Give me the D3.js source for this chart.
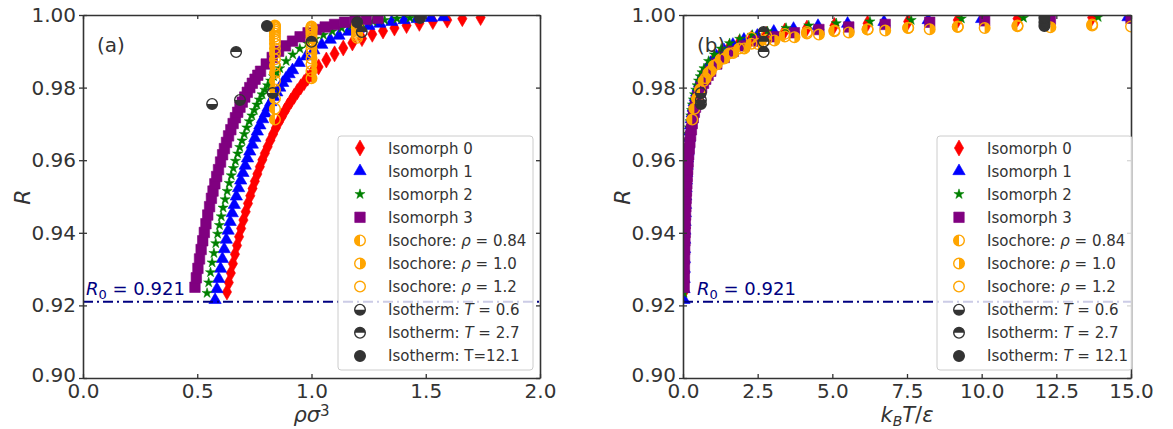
<!DOCTYPE html>
<html>
<head>
<meta charset="utf-8">
<script src="https://cdn.jsdelivr.net/npm/d3@7"></script>
<style>
body { margin: 0; background: #fff; }
svg text { font-family: "DejaVu Sans", sans-serif; fill: #333; }
</style>
</head>
<body>
<svg id="chart" width="1173" height="429"></svg>
<script>
// isomorph state points: density, temperature, R
var iso0Rho = [0.630,0.638,0.647,0.656,0.665,0.674,0.683,0.692,0.702,0.712,0.722,0.732,0.742,0.752,0.763,0.774,0.785,0.796,0.808,0.820,0.832,0.844,0.857,0.870,0.883,0.896,0.910,0.924,0.938,0.953,0.968,0.983,0.999,1.031,1.065,1.101,1.139,1.179,1.221,1.266,1.313,1.363,1.416,1.472,1.531,1.594,1.660,1.740];
var iso0T   = [0.029,0.032,0.035,0.039,0.043,0.047,0.052,0.058,0.064,0.071,0.078,0.086,0.095,0.105,0.116,0.128,0.141,0.156,0.173,0.191,0.211,0.233,0.257,0.284,0.313,0.346,0.382,0.422,0.466,0.515,0.569,0.628,0.694,0.847,1.03,1.26,1.54,1.88,2.29,2.79,3.41,4.15,5.07,6.18,7.54,9.20,11.2,13.7];
var iso0R   = [0.9237,0.9263,0.9289,0.9315,0.9341,0.9365,0.9389,0.9412,0.9435,0.9458,0.9481,0.9502,0.9522,0.9542,0.9562,0.9582,0.9601,0.9619,0.9637,0.9655,0.9672,0.9689,0.9705,0.9720,0.9735,0.9749,0.9763,0.9776,0.9789,0.9802,0.9814,0.9826,0.9837,0.9857,0.9876,0.9893,0.9909,0.9923,0.9935,0.9947,0.9956,0.9964,0.9971,0.9977,0.9982,0.9986,0.9990,0.9993];

var iso1Rho = [0.578,0.586,0.594,0.602,0.610,0.618,0.627,0.635,0.644,0.653,0.662,0.671,0.681,0.690,0.700,0.710,0.720,0.730,0.741,0.752,0.763,0.774,0.786,0.798,0.810,0.822,0.835,0.848,0.861,0.874,0.888,0.902,0.917,0.946,0.977,1.010,1.045,1.082,1.120,1.162,1.205,1.251,1.299,1.351,1.405,1.462,1.523,1.578];
var iso1T   = [0.031,0.034,0.038,0.042,0.047,0.052,0.057,0.063,0.069,0.077,0.085,0.094,0.103,0.114,0.126,0.139,0.154,0.170,0.188,0.207,0.229,0.253,0.279,0.308,0.341,0.376,0.416,0.459,0.507,0.560,0.619,0.684,0.755,0.921,1.12,1.37,1.67,2.04,2.49,3.04,3.70,4.52,5.51,6.73,8.21,10.0,12.2,14.9];
var iso1R   = [0.9215,0.9245,0.9273,0.9301,0.9328,0.9355,0.9381,0.9406,0.9430,0.9454,0.9477,0.9500,0.9523,0.9544,0.9565,0.9585,0.9605,0.9624,0.9643,0.9661,0.9679,0.9696,0.9713,0.9729,0.9745,0.9760,0.9774,0.9787,0.9800,0.9813,0.9825,0.9837,0.9848,0.9868,0.9886,0.9903,0.9918,0.9932,0.9943,0.9954,0.9962,0.9970,0.9976,0.9981,0.9986,0.9989,0.9992,0.9994];

var iso2Rho = [0.543,0.550,0.558,0.565,0.573,0.581,0.589,0.597,0.605,0.613,0.622,0.631,0.640,0.649,0.658,0.667,0.677,0.686,0.696,0.706,0.717,0.728,0.739,0.750,0.761,0.772,0.784,0.796,0.808,0.821,0.834,0.847,0.861,0.889,0.918,0.949,0.982,1.016,1.052,1.091,1.132,1.175,1.220,1.269,1.320,1.374,1.431,1.482];
var iso2T   = [0.030,0.033,0.036,0.040,0.044,0.048,0.053,0.059,0.065,0.072,0.079,0.087,0.096,0.106,0.117,0.129,0.143,0.158,0.175,0.193,0.213,0.235,0.260,0.287,0.317,0.350,0.387,0.427,0.472,0.521,0.576,0.636,0.703,0.857,1.05,1.28,1.56,1.90,2.32,2.83,3.45,4.21,5.13,6.26,7.64,9.32,11.4,13.9];
var iso2R   = [0.9234,0.9263,0.9291,0.9318,0.9344,0.9371,0.9397,0.9421,0.9445,0.9469,0.9492,0.9515,0.9537,0.9558,0.9578,0.9598,0.9618,0.9636,0.9654,0.9672,0.9690,0.9707,0.9723,0.9738,0.9753,0.9767,0.9781,0.9794,0.9806,0.9819,0.9831,0.9842,0.9853,0.9873,0.9891,0.9907,0.9922,0.9934,0.9945,0.9955,0.9964,0.9971,0.9977,0.9982,0.9986,0.9990,0.9992,0.9994];

var iso3Rho = [0.490,0.496,0.503,0.510,0.517,0.524,0.531,0.538,0.546,0.554,0.562,0.569,0.577,0.585,0.593,0.602,0.611,0.619,0.628,0.637,0.647,0.657,0.667,0.677,0.687,0.697,0.708,0.719,0.730,0.741,0.753,0.765,0.777,0.802,0.828,0.856,0.886,0.917,0.950,0.985,1.021,1.060,1.101,1.145,1.191,1.240,1.291];
var iso3T   = [0.039,0.043,0.047,0.052,0.057,0.063,0.070,0.077,0.085,0.094,0.104,0.115,0.127,0.140,0.155,0.171,0.189,0.209,0.230,0.254,0.281,0.310,0.343,0.379,0.418,0.462,0.511,0.564,0.623,0.688,0.760,0.839,0.927,1.13,1.38,1.68,2.05,2.51,3.06,3.73,4.55,5.55,6.77,8.26,10.1,12.3,15.0];
var iso3R   = [0.9250,0.9276,0.9302,0.9328,0.9354,0.9378,0.9401,0.9425,0.9449,0.9472,0.9495,0.9515,0.9535,0.9555,0.9574,0.9595,0.9615,0.9632,0.9649,0.9667,0.9684,0.9701,0.9717,0.9732,0.9746,0.9760,0.9774,0.9787,0.9800,0.9812,0.9823,0.9834,0.9845,0.9865,0.9883,0.9900,0.9915,0.9928,0.9940,0.9951,0.9960,0.9967,0.9974,0.9980,0.9984,0.9988,0.9991];

// isochores
var isochoreRho = [0.84, 1.0, 1.2];
var chore084T = [0.31,0.38,0.47,0.57,0.69,0.85,1.03,1.26,1.54,1.88,2.29,2.79,3.41,4.15,5.07,6.18,7.54,9.20,11.2,13.7];
var chore084R = [0.9712,0.9742,0.9770,0.9795,0.9818,0.9840,0.9860,0.9878,0.9894,0.9908,0.9921,0.9932,0.9941,0.9949,0.9955,0.9960,0.9964,0.9967,0.9969,0.9971];
var chore100T = [0.76,0.93,1.13,1.38,1.68,2.05,2.51,3.06,3.73,4.55,5.55,6.77,8.26,10.1,12.3,15.0];
var chore100R = [0.9826,0.9846,0.9864,0.9880,0.9895,0.9908,0.9920,0.9930,0.9939,0.9946,0.9952,0.9957,0.9961,0.9964,0.9966,0.9968];
var chore120T = [2.29,2.79,3.41,4.15,5.07,6.18,7.54,9.20,11.2,13.7];
var chore120R = [0.9937,0.9943,0.9948,0.9953,0.9957,0.9961,0.9965,0.9968,0.9971,0.9974];

// isotherms
var isothermT = [0.6, 2.7, 12.1];
var therm06Rho = [0.565, 0.687, 0.830];
var therm06R   = [0.9755, 0.9766, 0.9785];
var therm27Rho = [0.670, 1.000, 1.220];
var therm27R   = [0.9898, 0.9926, 0.9953];
var therm121Rho = [0.805, 1.200, 1.475];
var therm121R   = [0.9970, 0.9980, 0.9992];

var R0 = 0.921;
var yTicks = [0.90, 0.92, 0.94, 0.96, 0.98, 1.00];
var xTicksA = [0, 0.5, 1.0, 1.5, 2.0];
var xTicksB = [0, 2.5, 5.0, 7.5, 10.0, 12.5, 15.0];

var legendLabels = [
    [["Isomorph 0", 0]],
    [["Isomorph 1", 0]],
    [["Isomorph 2", 0]],
    [["Isomorph 3", 0]],
    [["Isochore: ", 0], ["\u03c1", 1], [" = 0.84", 0]],
    [["Isochore: ", 0], ["\u03c1", 1], [" = 1.0", 0]],
    [["Isochore: ", 0], ["\u03c1", 1], [" = 1.2", 0]],
    [["Isotherm: ", 0], ["T", 1], [" = 0.6", 0]],
    [["Isotherm: ", 0], ["T", 1], [" = 2.7", 0]],
    [["Isotherm: T=12.1", 0]]
];
var legendLabelsB = legendLabels.slice(0, 9).concat([[["Isotherm: ", 0], ["T", 1], [" = 12.1", 0]]]);

function constArr(arr, v) { return arr.map(function() { return v; }); }

var series = [
    {kind: "diamond",  fill: "full",   color: "#ff0000", xa: iso0Rho, xb: iso0T, y: iso0R},
    {kind: "triangle", fill: "full",   color: "#0000ff", xa: iso1Rho, xb: iso1T, y: iso1R},
    {kind: "star",     fill: "full",   color: "#008000", xa: iso2Rho, xb: iso2T, y: iso2R},
    {kind: "square",   fill: "full",   color: "#800080", xa: iso3Rho, xb: iso3T, y: iso3R},
    {kind: "circle",   fill: "left",   color: "#ffa500", xa: constArr(chore084R, isochoreRho[0]), xb: chore084T, y: chore084R},
    {kind: "circle",   fill: "right",  color: "#ffa500", xa: constArr(chore100R, isochoreRho[1]), xb: chore100T, y: chore100R},
    {kind: "circle",   fill: "none",   color: "#ffa500", xa: constArr(chore120R, isochoreRho[2]), xb: chore120T, y: chore120R},
    {kind: "circle",   fill: "bottom", color: "#333333", xa: therm06Rho, xb: constArr(therm06R, isothermT[0]), y: therm06R},
    {kind: "circle",   fill: "top",    color: "#333333", xa: therm27Rho, xb: constArr(therm27R, isothermT[1]), y: therm27R},
    {kind: "circle",   fill: "full",   color: "#333333", xa: therm121Rho, xb: constArr(therm121R, isothermT[2]), y: therm121R}
];

var svg = d3.select("#chart");
svg.append("rect").attr("width", 1173).attr("height", 429).style("fill", "#fff");

var halfAngles = {
    left: [Math.PI, 2 * Math.PI],
    right: [0, Math.PI],
    top: [-Math.PI / 2, Math.PI / 2],
    bottom: [Math.PI / 2, 3 * Math.PI / 2]
};

function addMarker(g, s) {
    var c = s.color;
    if (s.kind === "diamond") {
        g.append("path").attr("d", d3.symbol(d3.symbolDiamond, 74)())
            .style("fill", c).style("stroke", c).style("stroke-width", 0.6);
    } else if (s.kind === "triangle") {
        g.append("path").attr("d", d3.symbol(d3.symbolTriangle, 66)())
            .style("fill", c).style("stroke", c).style("stroke-width", 0.6);
    } else if (s.kind === "star") {
        g.append("path").attr("d", d3.symbol(d3.symbolStar, 32)())
            .style("fill", c).style("stroke", c).style("stroke-width", 0.5);
    } else if (s.kind === "square") {
        g.append("path").attr("d", d3.symbol(d3.symbolSquare, 110)())
            .style("fill", c).style("stroke", c).style("stroke-width", 0.6);
    } else {
        var r = 5.3;
        if (halfAngles[s.fill]) {
            var a = halfAngles[s.fill];
            g.append("path")
                .attr("d", d3.arc().innerRadius(0).outerRadius(r).startAngle(a[0]).endAngle(a[1])())
                .style("fill", c);
        }
        g.append("circle").attr("r", r)
            .style("fill", s.fill === "full" ? c : "none")
            .style("stroke", c).style("stroke-width", 1.4);
    }
}

function drawPanel(p) {
    var x = d3.scaleLinear().domain(p.xDomain).range([p.left, p.right]);
    var y = d3.scaleLinear().domain([0.90, 1.00]).range([378, 15]);

    var clipId = "clip-" + p.name;
    svg.append("clipPath").attr("id", clipId)
        .append("rect")
        .attr("x", p.left).attr("y", 15)
        .attr("width", p.right - p.left).attr("height", 363);

    var plot = svg.append("g").attr("clip-path", "url(#" + clipId + ")");

    series.forEach(function(s) {
        var xs = p.name === "a" ? s.xa : s.xb;
        var layer = plot.append("g");
        s.y.forEach(function(v, i) {
            var m = layer.append("g")
                .attr("transform", "translate(" + x(xs[i]) + "," + y(v) + ")");
            addMarker(m, s);
        });
    });

    // R0 reference line
    plot.append("line")
        .attr("x1", x(p.xDomain[0])).attr("x2", x(p.xDomain[1]))
        .attr("y1", y(R0)).attr("y2", y(R0))
        .style("stroke", "#000080")
        .style("stroke-width", 2)
        .style("stroke-dasharray", "10,4,2,4");

    var r0Label = svg.append("text")
        .attr("x", p.left + p.r0dx)
        .attr("y", y(R0) - 7)
        .style("font-size", "18px")
        .style("fill", "#000080");
    r0Label.append("tspan").style("font-style", "italic").style("fill", "#000080").text("R");
    r0Label.append("tspan").attr("dy", 4).style("font-size", "13px").style("fill", "#000080").text("0");
    r0Label.append("tspan").attr("dy", -4).style("fill", "#000080").style("white-space", "pre").text(" = 0.921");

    // axes
    var axL = svg.append("g").attr("transform", "translate(" + p.left + ",0)")
        .call(d3.axisLeft(y).tickValues(yTicks).tickFormat(d3.format(".2f"))
            .tickSizeInner(4).tickSizeOuter(0).tickPadding(3));
    axL.selectAll(".tick line").attr("x1", 4);
    // lowest label sits a touch higher so it clears the x-axis "0.0"
    axL.selectAll(".tick text").filter(function(d) { return d === yTicks[0]; }).attr("dy", "0.16em");
    var axB = svg.append("g").attr("transform", "translate(0,378)")
        .call(d3.axisBottom(x).tickValues(p.xTicks).tickFormat(d3.format(".1f"))
            .tickSizeInner(-4).tickSizeOuter(0).tickPadding(6));
    var axT = svg.append("g").attr("transform", "translate(0,15)")
        .call(d3.axisTop(x).tickValues(p.xTicks).tickFormat("")
            .tickSizeInner(-4).tickSizeOuter(0));
    var axR = svg.append("g").attr("transform", "translate(" + p.right + ",0)")
        .call(d3.axisRight(y).tickValues(yTicks).tickFormat("")
            .tickSizeInner(-4).tickSizeOuter(0));
    [axL, axB, axT, axR].forEach(function(ax) {
        ax.selectAll(".domain").style("stroke", "#333").style("stroke-width", 1.6);
        ax.selectAll(".tick line").style("stroke", "#333").style("stroke-width", 1.3);
        ax.selectAll(".tick text").style("font-size", "20px").style("fill", "#333")
            .style("font-family", "DejaVu Sans");
    });

    // axis labels
    svg.append("text")
        .attr("transform", "translate(" + (p.left - 53) + ",197) rotate(-90)")
        .style("text-anchor", "middle")
        .style("font-size", "22px")
        .style("font-style", "italic")
        .text("R");

    var xl = svg.append("text")
        .attr("x", (p.left + p.right) / 2)
        .attr("y", 422)
        .style("text-anchor", "middle")
        .style("font-size", "21px");
    p.xLabel(xl);

    svg.append("text")
        .attr("x", p.left + 14)
        .attr("y", 52)
        .style("font-size", "20px")
        .text("(" + p.name + ")");

    // legend
    var lg = svg.append("g").attr("transform", "translate(" + p.legendX + ",136)");
    lg.append("rect")
        .attr("width", 195).attr("height", 234).attr("rx", 3)
        .style("fill", "#fff").style("fill-opacity", 0.8)
        .style("stroke", "#ccc").style("stroke-width", 1);
    series.forEach(function(s, i) {
        var cy = 12 + i * 23.1;
        var m = lg.append("g").attr("transform", "translate(22," + cy + ")");
        addMarker(m, s);
        var t = lg.append("text")
            .attr("x", 50).attr("y", cy + 5.5)
            .style("font-size", "15px")
            .style("white-space", "pre");
        p.legend[i].forEach(function(part) {
            t.append("tspan").style("font-style", part[1] ? "italic" : "normal").text(part[0]);
        });
    });
}

drawPanel({
    name: "a", left: 83, right: 540, xDomain: [0, 2], xTicks: xTicksA,
    r0dx: 3, legendX: 338, legend: legendLabels,
    xLabel: function(t) {
        t.append("tspan").style("font-style", "italic").text("\u03c1\u03c3");
        t.append("tspan").attr("dy", -6).style("font-size", "15px").text("3");
    }
});

drawPanel({
    name: "b", left: 683, right: 1131, xDomain: [0, 15], xTicks: xTicksB,
    r0dx: 14, legendX: 937, legend: legendLabelsB,
    xLabel: function(t) {
        t.append("tspan").style("font-style", "italic").text("k");
        t.append("tspan").attr("dy", 4).style("font-size", "14px").style("font-style", "italic").text("B");
        t.append("tspan").attr("dy", -4).style("font-style", "italic").text("T");
        t.append("tspan").text("/");
        t.append("tspan").style("font-style", "italic").text("\u03b5");
    }
});
</script>
</body>
</html>
